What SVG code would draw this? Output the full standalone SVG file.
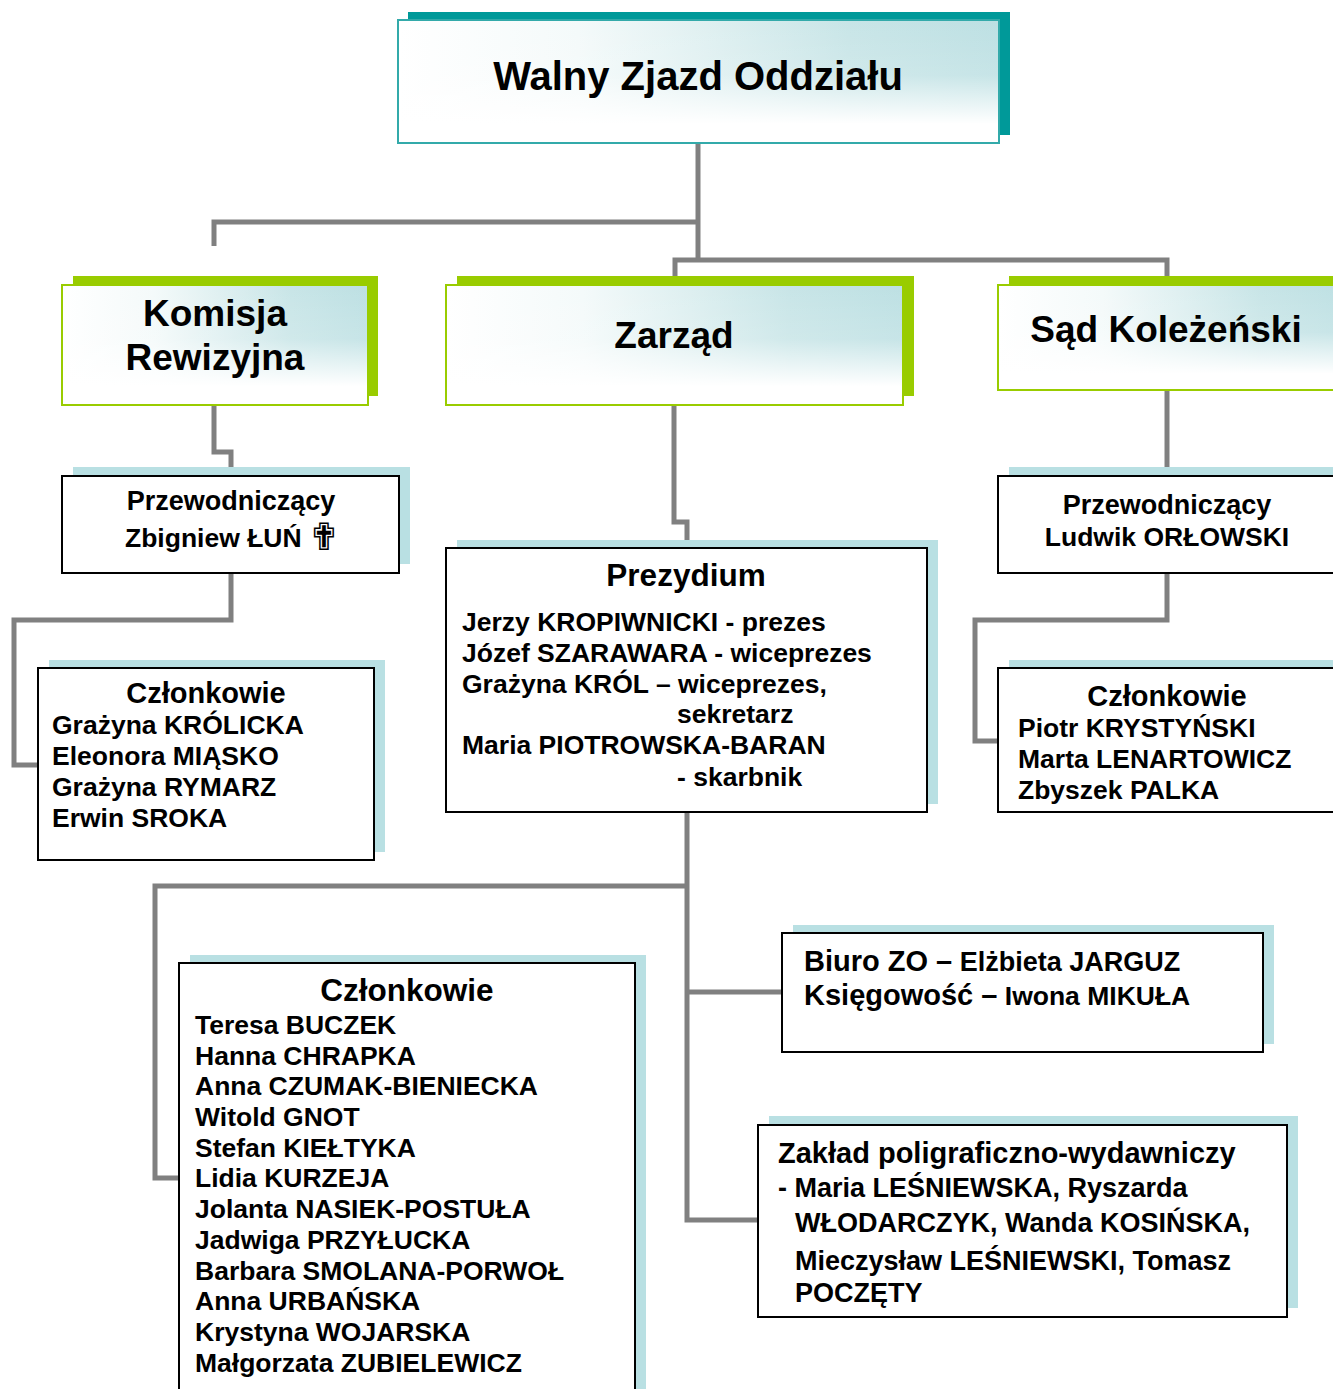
<svg xmlns="http://www.w3.org/2000/svg" width="1333" height="1389" viewBox="0 0 1333 1389">
<style>
  text { font-family: "Liberation Sans", Arial, sans-serif; font-weight: bold; fill: #000; }
  .conn { fill: none; stroke: #808080; stroke-width: 5; stroke-linejoin: miter; stroke-linecap: butt; }
  .shTeal { fill: #009999; }
  .shGreen { fill: #99CC00; }
  .shLight { fill: #B9E0E3; }
  .hdrTop { fill: url(#gH); stroke: #33AAAA; stroke-width: 2; }
  .hdr { fill: url(#gH); stroke: #99CC00; stroke-width: 2; }
  .fade { fill: url(#gV); stroke: none; }
  .box { fill: #fff; stroke: #000; stroke-width: 2; }
  .t40 { font-size: 40px; }
  .t37 { font-size: 37px; }
  .t27 { font-size: 27px; }
  .t26 { font-size: 26.5px; }
  .t29 { font-size: 29px; }
  .t31 { font-size: 31.5px; }
  .mid { text-anchor: middle; }
</style>
<defs>
  <linearGradient id="gH" x1="0" y1="0" x2="1" y2="0">
    <stop offset="0" stop-color="#ffffff"/>
    <stop offset="0.3" stop-color="#f4fafa"/>
    <stop offset="0.75" stop-color="#c8e5e7"/>
    <stop offset="1" stop-color="#bde0e3"/>
  </linearGradient>
  <linearGradient id="gV" x1="0" y1="0" x2="0" y2="1">
    <stop offset="0" stop-color="#ffffff" stop-opacity="0"/>
    <stop offset="0.45" stop-color="#ffffff" stop-opacity="0.15"/>
    <stop offset="0.85" stop-color="#ffffff" stop-opacity="1"/>
    <stop offset="1" stop-color="#ffffff" stop-opacity="1"/>
  </linearGradient>
</defs>
<rect width="1333" height="1389" fill="#ffffff"/>

<g id="connectors">
  <path class="conn" d="M698,143 V260"/>
  <path class="conn" d="M698,222 H214 V246"/>
  <path class="conn" d="M675,285 V260 H1167 V285"/>
  <path class="conn" d="M214,405 V452 H231 V476"/>
  <path class="conn" d="M231,573 V620 H14 V765 H38"/>
  <path class="conn" d="M674,405 V522 H687 V548"/>
  <path class="conn" d="M1167,390 V476"/>
  <path class="conn" d="M1167,573 V620 H975 V741 H998"/>
  <path class="conn" d="M687,812 V1220 H758"/>
  <path class="conn" d="M687,886 H155 V1178 H179"/>
  <path class="conn" d="M687,992 H782"/>
</g>

<g id="walny">
  <rect class="shTeal" x="408" y="12" width="602" height="123"/>
  <rect class="hdrTop" x="398" y="20" width="601" height="123"/>
  <rect class="fade" x="399" y="21" width="599" height="121"/>
  <text class="t40 mid" x="698" y="90">Walny Zjazd Oddziału</text>
</g>

<g id="komisja">
  <rect class="shGreen" x="73" y="276" width="305" height="120"/>
  <rect class="hdr" x="62" y="285" width="306" height="120"/>
  <rect class="fade" x="63" y="286" width="304" height="118"/>
  <text class="t37 mid" x="215" y="326">Komisja</text>
  <text class="t37 mid" x="215" y="370">Rewizyjna</text>
</g>

<g id="zarzad">
  <rect class="shGreen" x="457" y="276" width="457" height="120"/>
  <rect class="hdr" x="446" y="285" width="457" height="120"/>
  <rect class="fade" x="447" y="286" width="455" height="118"/>
  <text class="t37 mid" x="674" y="348">Zarząd</text>
</g>

<g id="sad">
  <rect class="shGreen" x="1009" y="276" width="340" height="105"/>
  <rect class="hdr" x="998" y="285" width="350" height="105"/>
  <rect class="fade" x="999" y="286" width="348" height="103"/>
  <text class="t37 mid" x="1166" y="342">Sąd Koleżeński</text>
</g>

<g id="przew-kr">
  <rect class="shLight" x="73" y="467" width="337" height="97"/>
  <rect class="box" x="62" y="476" width="337" height="97"/>
  <text class="t27 mid" x="231" y="510">Przewodniczący</text>
  <text class="t26" x="125" y="547">Zbigniew ŁUŃ</text>
  <text x="308" y="550" style="font-family: 'DejaVu Sans', sans-serif; font-size: 38px; font-weight: normal;">✟</text>
</g>

<g id="czlonkowie-kr">
  <rect class="shLight" x="49" y="660" width="336" height="192"/>
  <rect class="box" x="38" y="668" width="336" height="192"/>
  <text class="t29 mid" x="206" y="703">Członkowie</text>
  <text class="t26" x="52" y="734">Grażyna KRÓLICKA</text>
  <text class="t26" x="52" y="765">Eleonora MIĄSKO</text>
  <text class="t26" x="52" y="796">Grażyna RYMARZ</text>
  <text class="t26" x="52" y="827">Erwin SROKA</text>
</g>

<g id="prezydium">
  <rect class="shLight" x="457" y="540" width="481" height="264"/>
  <rect class="box" x="446" y="548" width="481" height="264"/>
  <text class="t31 mid" x="686" y="586">Prezydium</text>
  <text class="t26" x="462" y="631">Jerzy KROPIWNICKI - prezes</text>
  <text class="t26" x="462" y="662">Józef SZARAWARA - wiceprezes</text>
  <text class="t26" x="462" y="693">Grażyna KRÓL – wiceprezes,</text>
  <text class="t26" x="677" y="723">sekretarz</text>
  <text class="t26" x="462" y="754">Maria PIOTROWSKA-BARAN</text>
  <text class="t26" x="677" y="786">- skarbnik</text>
</g>

<g id="przew-sk">
  <rect class="shLight" x="1009" y="467" width="340" height="97"/>
  <rect class="box" x="998" y="476" width="350" height="97"/>
  <text class="t27 mid" x="1167" y="514">Przewodniczący</text>
  <text class="t26 mid" x="1167" y="546">Ludwik ORŁOWSKI</text>
</g>

<g id="czlonkowie-sk">
  <rect class="shLight" x="1009" y="660" width="340" height="144"/>
  <rect class="box" x="998" y="668" width="350" height="144"/>
  <text class="t29 mid" x="1167" y="706">Członkowie</text>
  <text class="t26" x="1018" y="737">Piotr KRYSTYŃSKI</text>
  <text class="t26" x="1018" y="768">Marta LENARTOWICZ</text>
  <text class="t26" x="1018" y="799">Zbyszek PALKA</text>
</g>

<g id="czlonkowie-zarzad">
  <rect class="shLight" x="190" y="955" width="456" height="450"/>
  <rect class="box" x="179" y="963" width="456" height="450"/>
  <text class="t31 mid" x="407" y="1001">Członkowie</text>
  <text class="t26" x="195" y="1034">Teresa BUCZEK</text>
  <text class="t26" x="195" y="1065">Hanna CHRAPKA</text>
  <text class="t26" x="195" y="1095">Anna CZUMAK-BIENIECKA</text>
  <text class="t26" x="195" y="1126">Witold GNOT</text>
  <text class="t26" x="195" y="1157">Stefan KIEŁTYKA</text>
  <text class="t26" x="195" y="1187">Lidia KURZEJA</text>
  <text class="t26" x="195" y="1218">Jolanta NASIEK-POSTUŁA</text>
  <text class="t26" x="195" y="1249">Jadwiga PRZYŁUCKA</text>
  <text class="t26" x="195" y="1280">Barbara SMOLANA-PORWOŁ</text>
  <text class="t26" x="195" y="1310">Anna URBAŃSKA</text>
  <text class="t26" x="195" y="1341">Krystyna WOJARSKA</text>
  <text class="t26" x="195" y="1372">Małgorzata ZUBIELEWICZ</text>
</g>

<g id="biuro">
  <rect class="shLight" x="793" y="925" width="481" height="119"/>
  <rect class="box" x="782" y="933" width="481" height="119"/>
  <text x="804" y="971"><tspan style="font-size:29px">Biuro ZO –</tspan><tspan style="font-size:27px"> Elżbieta JARGUZ</tspan></text>
  <text x="804" y="1005"><tspan style="font-size:29px">Księgowość –</tspan><tspan style="font-size:26.5px"> Iwona MIKUŁA</tspan></text>
</g>

<g id="zaklad">
  <rect class="shLight" x="769" y="1116" width="529" height="192"/>
  <rect class="box" x="758" y="1125" width="529" height="192"/>
  <text class="t29" x="778" y="1163">Zakład poligraficzno-wydawniczy</text>
  <text x="778" y="1197" style="font-size:27px">- Maria LEŚNIEWSKA, Ryszarda</text>
  <text x="795" y="1232" style="font-size:27px">WŁODARCZYK, Wanda KOSIŃSKA,</text>
  <text x="795" y="1270" style="font-size:27px">Mieczysław LEŚNIEWSKI, Tomasz</text>
  <text x="795" y="1302" style="font-size:27px">POCZĘTY</text>
</g>
</svg>
